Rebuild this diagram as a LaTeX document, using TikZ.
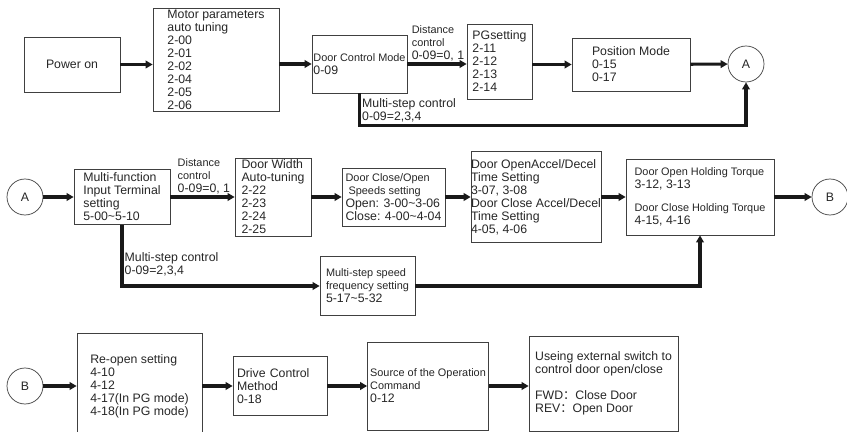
\documentclass[tikz,border=0pt]{standalone}
\usepackage{fontspec}
\setmainfont{Liberation Sans}
\newfontfamily\cjk{Noto Sans CJK SC}
\usepackage{tikz}
\usetikzlibrary{arrows.meta}
\newcommand{\sm}{\fontsize{9.3}{11.1}\selectfont}
\newcommand{\tld}{\textasciitilde}

\begin{document}
\begin{tikzpicture}[x=0.03cm, y=-0.03cm, font=\fontsize{10.5}{11.1}\selectfont, text=black!85,
    box/.style={draw=black!75, line width=0.6pt, align=left, inner sep=0pt},
    boxsize/.style 2 args={minimum width=#1*0.03cm, minimum height=#2*0.03cm},
    conn/.style={circle, draw=black!75, line width=0.6pt, minimum size=1.08cm, inner sep=0pt},
    arr/.style={line width=2.6pt, draw=black!90, -{Triangle[length=6pt, width=6.5pt]}},
    lbl/.style={align=left, inner sep=1pt}]
    \useasboundingbox (0,0) rectangle (847,432);

    % first row
    \node[box, boxsize={96}{55}] (pow) at (72,64.5) {Power on};
    \node[box, boxsize={126}{103}] (mot) at (216,59.5) {Motor parameters\\auto tuning\\2-00\\2-01\\2-02\\2-04\\2-05\\2-06};
    \node[box, boxsize={95}{58}] (dcm) at (359.5,64) {{\sm Door Control Mode}\\0-09};
    \node[box, boxsize={65}{75}] (pg) at (499.5,61.5) {PGsetting\\2-11\\2-12\\2-13\\2-14};
    \node[box, boxsize={118}{53}] (pos) at (631,64.5) {Position Mode\\0-15\\0-17};
    \node[conn] (A1) at (746,64) {A};

    \draw[arr] (pow) -- (pow -| mot.west);
    \draw[arr] (mot.east |- dcm) -- (dcm);
    \draw[arr] (dcm) -- node[lbl, pos=0, anchor=south west, xshift=1.5] {{\sm Distance}\\{\sm control}\\0-09=0, 1} (dcm -| pg.west);
    \draw[arr] (pg.east |- pos) -- (pos);
    \draw[arr] (pos) -- (A1);
    \draw[arr] (dcm.south) -- node[lbl, right, pos=.53] {Multi-step control\\0-09=2,3,4} ++(0,32) -| (A1.south);

    % second row
    \node[conn] (A2) at (25,197) {A};
    \node[box, boxsize={96}{55}] (mf) at (122,197) {Multi-function\\Input Terminal\\setting\\5-00\tld 5-10};
    \node[box, boxsize={76}{78}] (dw) at (273,197) {Door Width\\Auto-tuning\\2-22\\2-23\\2-24\\2-25};
    \node[box, boxsize={103}{58}] (dco) at (393.5,197) {{\sm Door Close/Open}\\{\sm\ Speeds setting}\\Open: 3-00\tld 3-06\\Close: 4-00\tld 4-04};
    \node[box, boxsize={128}{91}] (acc) at (536,197) {Door OpenAccel/Decel\\Time Setting\\3-07, 3-08\\Door Close Accel/Decel\\Time Setting\\4-05, 4-06};
    \node[box, boxsize={148}{76}] (hold) at (700,197) {{\sm Door Open Holding Torque}\\3-12, 3-13\\[9pt]{\sm Door Close Holding Torque}\\4-15, 4-16};
    \node[conn] (B2) at (830,197) {B};
    \node[box, boxsize={95}{59}] (spd) at (367.5,286) {{\sm Multi-step speed}\\{\sm frequency setting}\\5-17\tld 5-32};

    \draw[arr] (A2) -- (mf);
    \draw[arr] (mf) -- node[lbl, pos=0, anchor=south west, xshift=4] {{\sm Distance}\\{\sm control}\\0-09=0, 1} (dw);
    \draw[arr] (dw) -- (dco);
    \draw[arr] (dco) -- (acc);
    \draw[arr] (acc) -- (hold);
    \draw[arr] (hold) -- (B2);
    \draw[arr] (mf.south) -- node[lbl, right, pos=.64] {Multi-step control\\0-09=2,3,4} (mf.south |- spd.west) -- (spd.west);
    \draw[arr] (spd.east) -| (hold.south);

    % third row
    \node[conn] (B3) at (25,386) {B};
    \node[box, boxsize={125}{106}] (ro) at (139.5,386) {Re-open setting\\4-10\\4-12\\4-17(In PG mode)\\4-18(In PG mode)};
    \node[box, boxsize={94}{59}, text width=86*0.03cm] (dr) at (280,386) {Drive Control\\Method\\0-18};
    \node[box, boxsize={121}{88}] (src) at (428,386) {{\sm Source of the Operation}\\{\sm Command}\\0-12};
    \node[box, boxsize={149}{95}] (use) at (603.5,383.5) {Useing external switch to\\control door open/close\\[11pt]FWD{\cjk ：}Close Door\\REV{\cjk ：}Open Door};

    \draw[arr] (B3) -- (ro);
    \draw[arr] (ro) -- (dr);
    \draw[arr] (dr) -- (src);
    \draw[arr] (src) -- (src -| use.west);
\end{tikzpicture}
\end{document}
